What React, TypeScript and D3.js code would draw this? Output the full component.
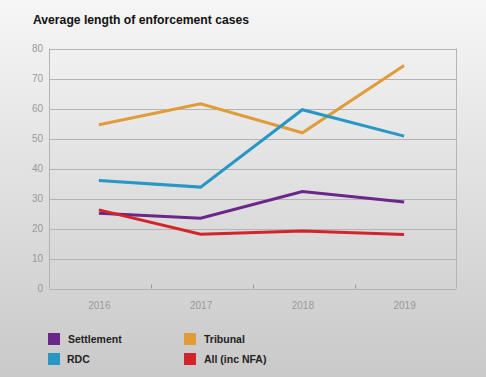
import React from "react";
import * as d3 from "d3";

const years = ["2016", "2017", "2018", "2019"];
const settlement = [25.1, 23.4, 32.3, 28.8];
const tribunal = [54.6, 61.6, 51.9, 74.3];
const rdc = [36.0, 33.8, 59.6, 50.8];
const allIncNFA = [26.2, 18.1, 19.2, 18.0];
const yTicks = [0, 10, 20, 30, 40, 50, 60, 70, 80];

const seriesNames = ["Settlement", "Tribunal", "RDC", "All (inc NFA)"];
const seriesColors = ["#6a2688", "#e09c38", "#2797c4", "#d2242a"];

const W = 486, H = 377;
const left = 49.5, right = 456.5, top = 48.5, bottom = 288.5;

export default function App() {
  const x = d3.scaleBand().domain(years).range([left, right]);
  const y = d3.scaleLinear().domain([0, 80]).range([bottom, top]);
  const line = d3
    .line<number>()
    .x((_, i) => (x(years[i]) as number) + x.bandwidth() / 2 - 1.5)
    .y((v) => y(v));
  const data = [settlement, tribunal, rdc, allIncNFA];
  const drawOrder = [1, 2, 0, 3];
  const font = "'Liberation Sans', Arial, Helvetica, sans-serif";
  const legendPos = [
    [48, 333],
    [184, 333],
    [48, 353],
    [184, 353],
  ];
  return (
    <svg
      width={W}
      height={H}
      style={{ position: "absolute", left: 0, top: 0 }}
      fontFamily={font}
    >
      <defs>
        <linearGradient id="bg" x1="0" y1="0" x2="0" y2="1">
          <stop offset="0" stopColor="#f6f6f6" />
          <stop offset="1" stopColor="#c9c9c9" />
        </linearGradient>
      </defs>
      <rect x={0} y={0} width={W} height={H} fill="url(#bg)" />
      <text
        x={33}
        y={24}
        fontSize={13.5}
        fontWeight="bold"
        fill="#111"
        textLength={216}
        lengthAdjust="spacingAndGlyphs"
      >
        Average length of enforcement cases
      </text>
      {yTicks.map((t) => (
        <g key={t}>
          <line
            x1={left}
            x2={right}
            y1={Math.round(y(t)) + 0.5}
            y2={Math.round(y(t)) + 0.5}
            stroke="#b4b4b4"
            strokeWidth={1}
          />
          <text
            x={43}
            y={y(t) + 3.5}
            textAnchor="end"
            fontSize={10}
            fill="#999"
          >
            {t}
          </text>
        </g>
      ))}
      <line x1={left} x2={left} y1={top} y2={bottom} stroke="#b4b4b4" />
      <line x1={right} x2={right} y1={top} y2={bottom} stroke="#b4b4b4" />
      {years.slice(1).map((yr) => (
        <line
          key={yr}
          x1={Math.round(x(yr) as number) + 0.5}
          x2={Math.round(x(yr) as number) + 0.5}
          y1={bottom - 4}
          y2={bottom}
          stroke="#999"
        />
      ))}
      {years.map((yr) => (
        <text
          key={yr}
          x={(x(yr) as number) + x.bandwidth() / 2 - 1}
          y={309}
          textAnchor="middle"
          fontSize={10}
          fill="#999"
        >
          {yr}
        </text>
      ))}
      {drawOrder.map((i) => (
        <path
          key={i}
          d={line(data[i]) || ""}
          fill="none"
          stroke={seriesColors[i]}
          strokeWidth={3}
          strokeLinejoin="miter"
        />
      ))}
      {seriesNames.map((n, i) => (
        <g key={n}>
          <rect
            x={legendPos[i][0]}
            y={legendPos[i][1]}
            width={12}
            height={12}
            fill={seriesColors[i]}
          />
          <text
            x={legendPos[i][0] + (i === 2 ? 19 : 20)}
            y={legendPos[i][1] + 10}
            fontSize={10.5}
            fontWeight="bold"
            fill="#222"
          >
            {n}
          </text>
        </g>
      ))}
    </svg>
  );
}
